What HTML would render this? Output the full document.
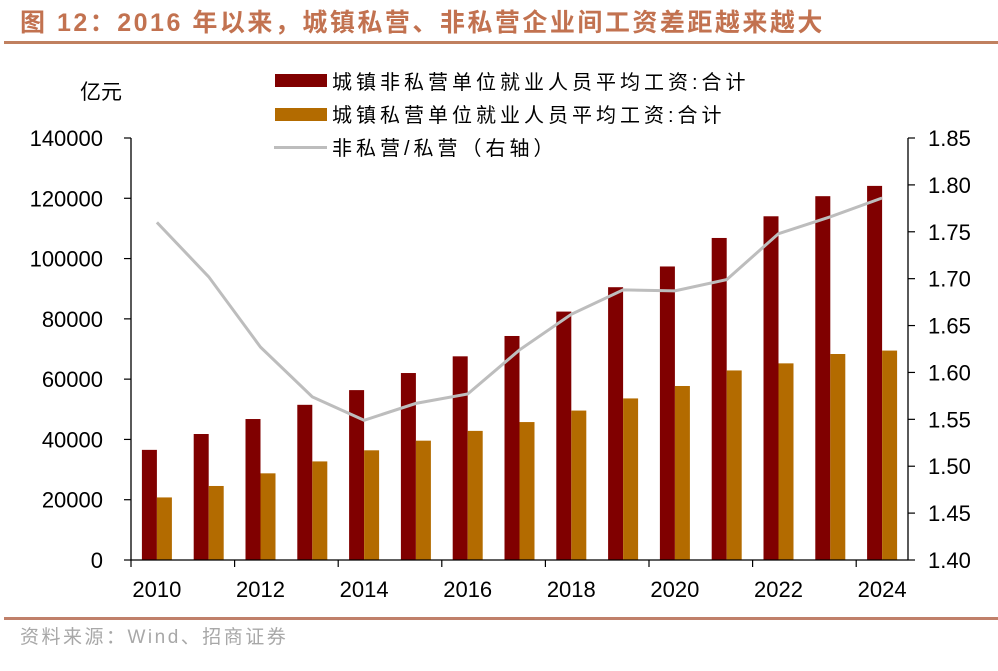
<!DOCTYPE html>
<html><head><meta charset="utf-8"><style>
body{margin:0;background:#fff;}
svg text{font-family:"Liberation Sans","Noto Sans CJK SC",sans-serif;}
</style></head><body>
<svg width="998" height="666" xmlns="http://www.w3.org/2000/svg" id="chart">
<text x="20" y="31" font-size="25" font-weight="bold" letter-spacing="2.5" fill="#c27250">图 12：2016 年以来，城镇私营、非私营企业间工资差距越来越大</text>
<rect x="4" y="41" width="994" height="3" fill="#c0805f"/>
<text x="80" y="99" font-size="21" fill="#000">亿元</text>
<g>
<rect x="275" y="74" width="52" height="13" fill="#800000"/>
<text x="332" y="89" font-size="20" letter-spacing="4">城镇非私营单位就业人员平均工资:合计</text>
<rect x="275" y="108" width="52" height="13" fill="#b36b00"/>
<text x="332" y="122" font-size="20" letter-spacing="4">城镇私营单位就业人员平均工资:合计</text>
<rect x="274" y="146" width="53" height="3" fill="#bdbdbd"/>
<text x="332" y="155" font-size="20" letter-spacing="4">非私营/私营（右轴）</text>
</g>
<g id="plot"></g>
<rect x="4" y="617" width="994" height="3" fill="#c0806a"/>
<text x="20" y="643" font-size="19" letter-spacing="2.5" fill="#a8a8a8">资料来源：Wind、招商证券</text>
</svg>
<script>
const years=[2010,2011,2012,2013,2014,2015,2016,2017,2018,2019,2020,2021,2022,2023,2024];
const nonPrivate=[36539,41799,46769,51483,56360,62029,67569,74318,82413,90501,97379,106837,114029,120698,124110];
const privateWage=[20759,24556,28752,32706,36390,39589,42833,45761,49575,53604,57727,62884,65237,68340,69476];
const ratio=[1.760,1.702,1.627,1.574,1.549,1.567,1.577,1.624,1.662,1.688,1.687,1.699,1.748,1.766,1.786];
const leftTicks=[0,20000,40000,60000,80000,100000,120000,140000];
const rightTicks=["1.40","1.45","1.50","1.55","1.60","1.65","1.70","1.75","1.80","1.85"];
const NS="http://www.w3.org/2000/svg";
const g=document.getElementById('plot');
const X0=131,X1=908,Y0=560,Y1=138;
const bw=(X1-X0)/years.length;
const yL=v=>Y0-(v/140000)*(Y0-Y1);
const yR=v=>Y0-((v-1.40)/0.45)*(Y0-Y1);
const xC=i=>X0+bw*(i+0.5);
function mk(t,a){const e=document.createElementNS(NS,t);for(const k in a)e.setAttribute(k,a[k]);g.appendChild(e);return e;}
years.forEach((y,i)=>{
 let r=mk('rect',{x:xC(i)-15,y:yL(nonPrivate[i]),width:15,height:Y0-yL(nonPrivate[i]),fill:'#800000'});
 
 
 let p=mk('rect',{x:xC(i),y:yL(privateWage[i]),width:15,height:Y0-yL(privateWage[i]),fill:'#b36b00'});
 
 
});
const line=mk('polyline',{points:ratio.map((v,i)=>xC(i)+','+yR(v)).join(' '),fill:'none',stroke:'#bdbdbd','stroke-width':3});


const axes=mk('path',{d:`M${X0},${Y1}V${Y0}H${X1}M${X1},${Y1}V${Y0}`,stroke:'#000','stroke-width':1.3,fill:'none'});


leftTicks.forEach(v=>{
 mk('line',{x1:X0-7,x2:X0,y1:yL(v),y2:yL(v),stroke:'#000','stroke-width':1.2});
 const t=mk('text',{x:103,y:yL(v)+8,'font-size':22,'text-anchor':'end'});t.textContent=v;
 
 
});
rightTicks.forEach(v=>{
 const yy=yR(parseFloat(v));
 mk('line',{x1:X1,x2:X1+7,y1:yy,y2:yy,stroke:'#000','stroke-width':1.2});
 const t=mk('text',{x:928,y:yy+8,'font-size':22});t.textContent=v;
 
 
});
for(let i=0;i<=years.length;i+=2){mk('line',{x1:X0+bw*i,x2:X0+bw*i,y1:Y0,y2:Y0+7,stroke:'#000','stroke-width':1.2});}
years.forEach((y,i)=>{if(i%2==0){const t=mk('text',{x:xC(i),y:597,'font-size':22,'text-anchor':'middle'});t.textContent=y;
 
 }});
</script>
</body></html>
